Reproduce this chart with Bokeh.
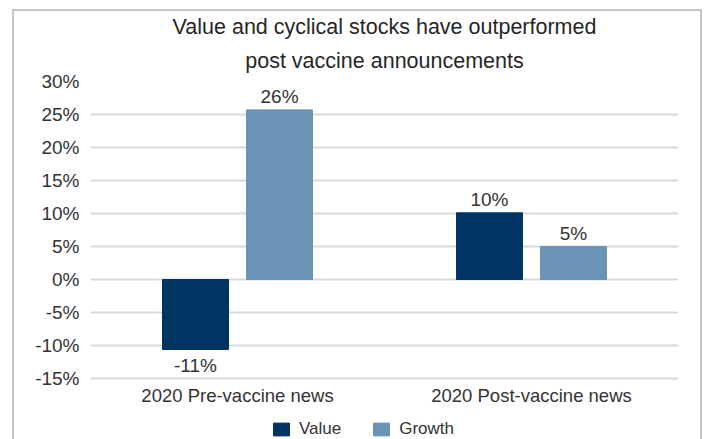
from bokeh.plotting import figure
from bokeh.models import (ColumnDataSource, FactorRange, Range1d, FixedTicker,
                          PrintfTickFormatter, Title, Legend, LegendItem)
from bokeh.transform import dodge
from bokeh.core.properties import value
from bokeh.embed import file_html
from bokeh.resources import INLINE

title_lines = ["Value and cyclical stocks have outperformed", "post vaccine announcements"]
categories = ["2020 Pre-vaccine news", "2020 Post-vaccine news"]
series_names = ["Value", "Growth"]
value_pct = [-10.6, 10.1]
growth_pct = [25.7, 5.0]
y_ticks = [-15, -10, -5, 0, 5, 10, 15, 20, 25, 30]
colors = ["#003462", "#6b93b6"]

FONT = "Liberation Sans"
TXT = "#333333"
OFF = 0.1429
BW = 0.2245
BOX = "#c6c6c6"

# plot frame runs to the bottom of the page so the legend can sit inside it;
# the value axis keeps -15..30 over 297 px, the extra 61 px hold labels + legend
y_lo = y_ticks[0] - (y_ticks[-1] - y_ticks[0]) * 61 / 297

p = figure(width=705, height=439, x_range=FactorRange(factors=categories),
           y_range=Range1d(y_lo, y_ticks[-1]), output_backend="svg", toolbar_location=None,
           min_border_left=90, min_border_right=27, min_border_top=81, min_border_bottom=0)
p.outline_line_color = None
p.background_fill_color = "white"
p.border_fill_alpha = 0
g = f"linear-gradient({BOX},{BOX})"
p.styles = {
    "background-color": "white",
    "background-image": f"{g}, {g}, {g}",
    "background-position": "12px 9px, 12px 9px, 700px 9px",
    "background-size": "2px 100%, 690px 2px, 2px 100%",
    "background-repeat": "no-repeat",
}

src = ColumnDataSource(dict(cat=categories, v=value_pct, g=growth_pct))
r1 = p.vbar(x=dodge("cat", -OFF, range=p.x_range), top="v", bottom=0, width=BW, source=src,
            fill_color=colors[0], line_color=colors[0])
r2 = p.vbar(x=dodge("cat", OFF, range=p.x_range), top="g", bottom=0, width=BW, source=src,
            fill_color=colors[1], line_color=colors[1])

# data labels: above positive bars, below negative bars
for vals, o in ((value_pct, -OFF), (growth_pct, OFF)):
    for sign, base, yo in ((1, "bottom", -3), (-1, "top", 6)):
        rows = [(c, v) for c, v in zip(categories, vals) if (v >= 0) == (sign > 0)]
        if not rows:
            continue
        sub = ColumnDataSource(dict(cat=[r[0] for r in rows], y=[r[1] for r in rows],
                                    t=[f"{round(r[1])}%" for r in rows]))
        p.text(x=dodge("cat", o, range=p.x_range), y="y", text="t", source=sub,
               text_align="center", text_baseline=base, y_offset=yo,
               text_font=value(FONT), text_font_size="19px", text_color=TXT)

# axes
p.yaxis.ticker = FixedTicker(ticks=y_ticks)
p.yaxis.formatter = PrintfTickFormatter(format="%d%%")
for ax in (p.xaxis, p.yaxis):
    ax.axis_line_color = None
    ax.major_tick_line_color = None
    ax.minor_tick_line_color = None
    ax.major_tick_out = 0
    ax.major_tick_in = 0
    ax.major_label_text_font = FONT
    ax.major_label_text_color = TXT
p.yaxis.major_label_text_font_size = "19px"
p.xaxis.major_label_text_font_size = "18.5px"
p.yaxis.major_label_standoff = 11
p.xaxis.major_label_standoff = 6
p.xaxis.fixed_location = y_ticks[0]
p.xgrid.grid_line_color = None
p.ygrid.grid_line_color = "#d9d9d9"
p.ygrid.grid_line_width = 2

# titles (second line first, so it sits closest to the plot)
for line, so in zip(reversed(title_lines), (17, 0)):
    p.add_layout(Title(text=line, align="center", text_font=FONT, text_font_size="21.5px",
                       text_font_style="normal", text_color="#262626",
                       text_line_height=0.85, standoff=so), "above")

legend = Legend(items=[LegendItem(label=series_names[0], renderers=[r1]),
                       LegendItem(label=series_names[1], renderers=[r2])],
                orientation="horizontal", location=(181, 0),
                label_text_font=FONT, label_text_font_size="17px", label_text_color=TXT,
                glyph_width=20, glyph_height=16, label_standoff=8, spacing=30,
                padding=0, margin=0, border_line_color=None, background_fill_alpha=0)
p.add_layout(legend, "center")

open("out.html", "w").write(file_html(p, INLINE))
